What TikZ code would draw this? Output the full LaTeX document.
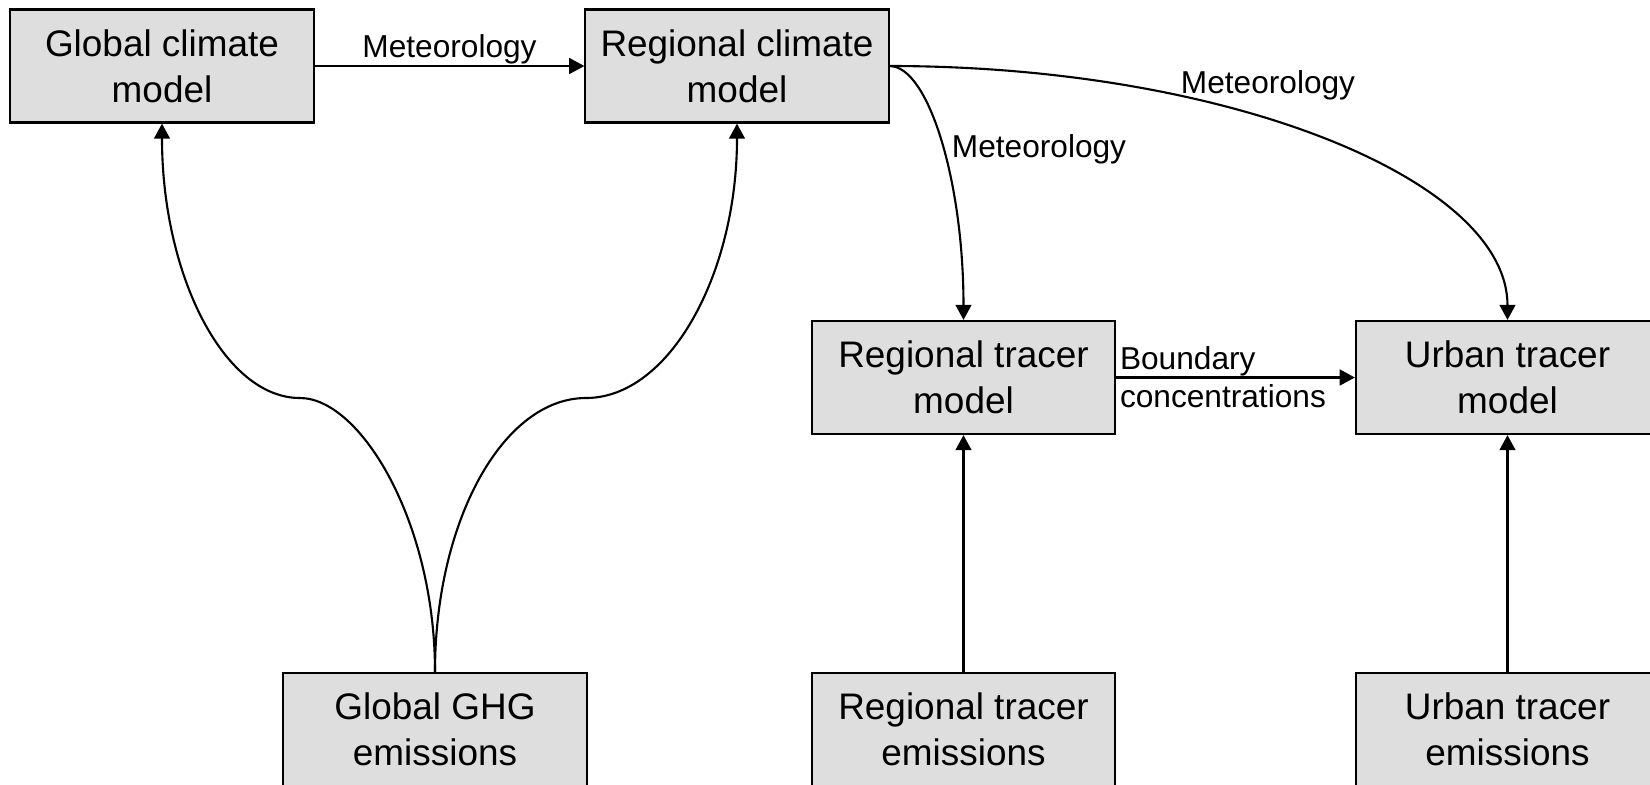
\documentclass[tikz,border=0pt]{standalone}
\usepackage{fontspec}
\setmainfont{Liberation Sans}
\usetikzlibrary{arrows.meta}

\begin{document}
\begin{tikzpicture}[x=0.01cm,y=-0.01cm,line width=0.6pt,>={Triangle[length=4.3pt,width=4.5pt]}]
        \tikzstyle{model}=[draw,fill=black!13,minimum width=3.03cm,minimum height=1.13cm,align=center,inner sep=1pt,font=\fontsize{10.5}{13}\selectfont]
        \tikzstyle{lbl}=[font=\fontsize{9}{10.8}\selectfont,inner sep=1.7pt]
        \useasboundingbox (0,0) rectangle (1650,784);
        % models
        \node[model] (gcm) at (162,66) {Global climate\\model};
        \node[model] (rcm) at (737,66) {Regional climate\\model};
        \node[model] (rtm) at (963.5,377.5) {Regional tracer\\model};
        \node[model] (utm) at (1507.5,377.5) {Urban tracer\\model};
        % emissions
        \node[model] (ghg) at (435,729.5) {Global GHG\\emissions};
        \node[model] (rte) at (963.5,729.5) {Regional tracer\\emissions};
        \node[model] (ute) at (1507.5,729.5) {Urban tracer\\emissions};
        \coordinate (gmid) at (300,398);
        \coordinate (rmid) at (586,398);
        % meteorology
        \draw[->] (gcm) -- node[lbl,above,inner sep=0.3pt] (met1) {Meteorology} (rcm);
        \draw[->] (rcm.east) .. controls (928,66) and (963.5,180) .. (rtm.north);
        \draw[->] (rcm.east) .. controls (1229,66) and (1507.5,180) .. (utm.north);
        \node[lbl] (met2) at (1039,149) {Meteorology};
        \node[lbl] (met3) at (1268,85) {Meteorology};
        % boundary
        \draw[->] (rtm) -- (utm);
        \node[lbl,anchor=west,align=left,inner sep=0.8pt] (bnd) at (rtm.east) {Boundary\\concentrations};
        % emissions in
        \draw[->] (ghg.north) .. controls (435,521) and (360,398) .. (gmid) .. controls (224,398) and (162,275) .. (gcm.south);
        \draw[->] (ghg.north) .. controls (435,521) and (503,398) .. (rmid) .. controls (669,398) and (737,275) .. (rcm.south);
        \draw[->] (rte) -- (rtm);
        \draw[->] (ute) -- (utm);
\end{tikzpicture}
\end{document}
